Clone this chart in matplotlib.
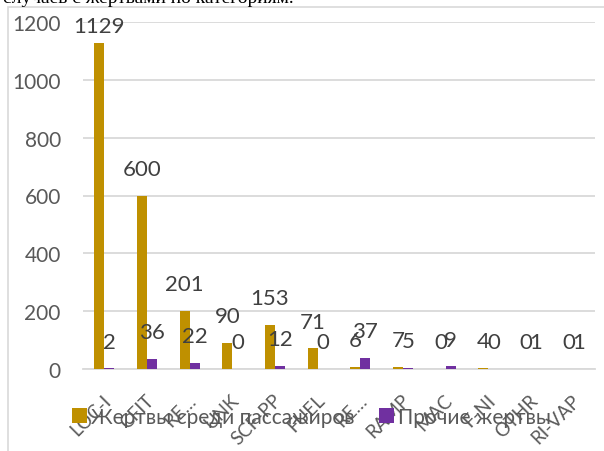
import matplotlib.pyplot as plt
import numpy as np
from matplotlib.patches import Rectangle

categories = ["LOC-I", "CFIT", "RE…", "UNK", "SCF-PP", "FUEL", "RE…",
              "RAMP", "MAC", "F-NI", "OTHR", "RI-VAP"]
passengers = [1129, 600, 201, 90, 153, 71, 6, 7, 0, 4, 0, 0]
others = [2, 36, 22, 0, 12, 0, 37, 5, 9, 0, 1, 1]
series_names = ["Жертвы среди пассажиров", "Прочие жертвы"]
title_text = "случаев с жертвами по категориям."

GOLD = "#BF9000"
PURPLE = "#7030A0"
GRID = "#D9D9D9"
TXT = "#595959"
LBL = "#404040"

plt.rcParams['font.family'] = ['Lato', 'DejaVu Sans']

fig = plt.figure(figsize=(6.04, 4.52), dpi=100)
W, H = 604, 452

# chart area border (cut by the image edges)
fig.add_artist(Rectangle((8 / W, -0.1), 1.2, 1 - 8 / H + 0.1,
                         transform=fig.transFigure, fill=False,
                         edgecolor=GRID, linewidth=1.2))

# caption of the document above the chart, cut by the top edge
fig.text(3 / W, 1 - 3 / H, title_text, family='Liberation Serif',
         fontsize=14, color='black', va='baseline', ha='left')

ax = fig.add_axes([83 / W, 1 - 370 / H, (595 - 83) / W, (370 - 23) / H])
x = np.arange(len(categories))
bw = 0.235
ax.bar(x - bw / 2, passengers, bw, color=GOLD, label=series_names[0], zorder=3)
ax.bar(x + bw / 2, others, bw, color=PURPLE, label=series_names[1], zorder=3)

ax.set_xlim(-0.5, len(categories) - 0.5)
ax.set_ylim(0, 1200)
ax.set_yticks(range(0, 1201, 200))
ax.yaxis.grid(True, color=GRID, linewidth=1.3, zorder=0)
for s in ["top", "right", "left"]:
    ax.spines[s].set_visible(False)
ax.spines["bottom"].set_color(GRID)
ax.spines["bottom"].set_linewidth(1.3)
ax.tick_params(axis='y', length=0, pad=16, labelsize=15, labelcolor=TXT)
ax.tick_params(axis='x', length=0, pad=0)

ax.set_xticks(x)
ax.set_xticklabels([])
for xi, name in zip(x, categories):
    ax.annotate(name, (xi, 0), xytext=(3, -20), textcoords='offset points',
                rotation=45, rotation_mode='anchor', ha='right', va='center',
                fontsize=13.5, color=TXT, annotation_clip=False)

# value labels
for vals, off in ((passengers, -bw / 2), (others, bw / 2)):
    for xi, v in zip(x, vals):
        yl = min(v + 93, 1186)
        ax.text(xi + off, yl, str(v), ha='center', va='center',
                fontsize=16, color=LBL, zorder=4)

fig.legend(loc='center', bbox_to_anchor=(0.516, 1 - 418 / H), ncol=2,
           frameon=False, fontsize=15, labelcolor=TXT, handlelength=0.7,
           handleheight=0.7, handletextpad=0.2, columnspacing=1.2)

fig.savefig("out.png", dpi=100)
